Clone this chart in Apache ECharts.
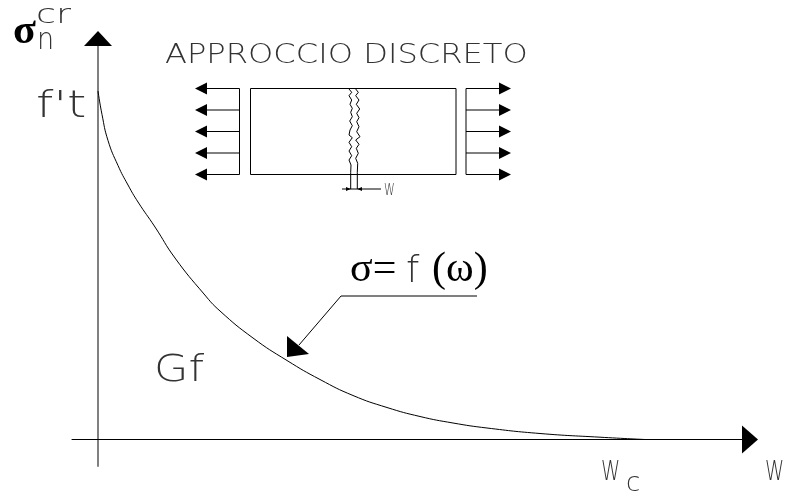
<!DOCTYPE html>
<html><head><meta charset="utf-8">
<style>html,body{margin:0;padding:0;background:#fff}#c{width:785px;height:493px}</style>
<script src="https://cdn.jsdelivr.net/npm/echarts@6/dist/echarts.min.js"></script>
</head><body><div id="c"></div>
<script>
// Softening curve: [w, sigma]
const curve = [[0,348.5],[4,325],[10,299],[20,274],[30,254.5],[40,237.5],[57,212.5],[77,181.5],[106,145.5],[122,128.5],[155,101.5],[189,79],[222,60],[255,44],[289,32],[322,23],[355,16.5],[389,11.5],[442,6],[502,2.3],[547,0]];
// Specimen inset, in the same axis units
const specimen = [[152.5,351],[358,351],[358,265],[152.5,265],[152.5,351]];
const leftBracket = [[141.5,351],[141.5,265]];
const rightBracket = [[368,351],[368,265]];
const loadLevels = [351,329.5,308,286.5,265];
const crackLeft = [[251,350.5],[253.7,347.2],[251,343.8],[253.7,339.5],[252,335.2],[254.3,331.2],[252.7,327.2],[254.3,322.8],[251.7,318.5],[254.3,313.8],[252,309.5],[251,304.5],[254.3,301.8],[251,297.2],[253.7,292.8],[251,288.5],[253.7,283.8],[251,279.5],[253,274.5],[252.7,267.2],[252.7,250.5]];
const crackRight = [[257.7,350.5],[260.3,347.2],[257.7,343.8],[261,339.5],[258.3,335.2],[261.7,330.5],[258.7,326.2],[261,321.8],[258.7,317.8],[261,312.8],[258.7,307.8],[262,302.8],[257.7,299.5],[261,295.2],[258.3,291.2],[260.3,286.2],[257.7,281.2],[259.7,276.2],[259.3,267.2],[259.3,250.5]];
const widthDim = [[244,250.5],[283,250.5]];
const leader = [[379,143.5],[243,143.5],[201,94.5]];
const leaderHead = [[189,103.5],[211,85.5],[189,82.5]];
const widthHeads = [[[252.7,250.5],[248,252.5],[248,248.5]],[[259.3,250.5],[264,252.5],[264,248.5]]];
const yArrow = [[0,408.5],[-14,393.5],[14,393.5]];
const leftTip = 97, leftBase = 109, rightBase = 401, rightTip = 413;

const thin = '"DejaVu Sans ExtraLight","DejaVu Sans Light","Lato Hairline",sans-serif';
const serif = '"Liberation Serif",serif';
const labels = [
  {t:'APPROCCIO DISCRETO',x:165,y:69,s:27,f:thin,w:'normal',sx:1.19,c:'#333'},
  {t:'σ',x:13,y:53,s:42,f:serif,w:'bold',c:'#000'},
  {t:'cr',x:36,y:29,s:26,f:thin,w:'normal',sx:1.4,c:'#333'},
  {t:'n',x:37,y:56,s:30,f:thin,w:'normal',sx:0.9,c:'#333'},
  {t:"f't",x:36,y:126,s:38,f:thin,w:'normal',sx:1.3,c:'#333'},
  {t:'Gf',x:154,y:390,s:38,f:thin,w:'normal',sx:1.17,c:'#333'},
  {t:'σ=',x:350,y:291,s:42,f:serif,w:'normal',c:'#000'},
  {t:'f',x:406,y:291,s:38,f:thin,w:'normal',c:'#333'},
  {t:'(ω)',x:432,y:291,s:42,f:serif,w:'normal',c:'#000'},
  {t:'W',x:601,y:486,s:27,f:thin,w:'normal',sx:0.72,c:'#333'},
  {t:'c',x:626,y:497,s:26,f:thin,w:'normal',sx:1.0,c:'#333'},
  {t:'W',x:765,y:486,s:27,f:thin,w:'normal',sx:0.72,c:'#333'},
  {t:'W',x:384,y:199,s:16,f:thin,w:'normal',sx:0.68,c:'#333'}
];

const line = (d, extra) => Object.assign({type:'line',data:d,showSymbol:false,symbol:'none',silent:true,clip:false,lineStyle:{color:'#000',width:1}}, extra||{});
const series = [line(curve,{smooth:0.5}), line(specimen), line(leftBracket), line(rightBracket), line(crackLeft), line(crackRight), line(widthDim), line(leader)];
const heads = [leaderHead, yArrow, ...widthHeads];
loadLevels.forEach(v => {
  series.push(line([[leftBracket[0][0],v],[leftBase,v]]));
  series.push(line([[rightBracket[0][0],v],[rightBase,v]]));
  heads.push([[leftTip,v],[leftBase,v+6],[leftBase,v-6]]);
  heads.push([[rightTip,v],[rightBase,v+6],[rightBase,v-6]]);
});
series.push({type:'custom',silent:true,clip:false,coordinateSystem:'cartesian2d',
  data:heads.map(h=>h.flat()),
  encode:{x:0,y:1},
  renderItem:(p,api)=>({type:'polygon',shape:{points:[0,2,4].map(i=>api.coord([api.value(i),api.value(i+1)]))},style:{fill:'#000'}})
});

const chart = echarts.init(document.getElementById('c'),null,{renderer:'canvas'});
chart.setOption({
  animation:false,backgroundColor:'#fff',
  grid:{left:72,right:35,top:39,bottom:27},
  xAxis:{type:'value',min:-26,max:652,splitLine:{show:false},axisTick:{show:false},axisLabel:{show:false},
    axisLine:{onZero:true,symbol:['none','triangle'],symbolSize:[28,16],lineStyle:{color:'#000',width:1}}},
  yAxis:{type:'value',min:-26.5,max:400.5,splitLine:{show:false},axisTick:{show:false},axisLabel:{show:false},
    axisLine:{onZero:true,lineStyle:{color:'#808080',width:2}}},
  series,
  graphic:labels.map(l=>({type:'text',silent:true,x:l.x,y:l.y,scaleX:l.sx||1,originX:0,originY:0,
    style:{text:l.t,fill:l.c,font:`${l.w} ${l.s}px ${l.f}`,textAlign:'left',textVerticalAlign:'bottom'}}))
});
</script></body></html>
